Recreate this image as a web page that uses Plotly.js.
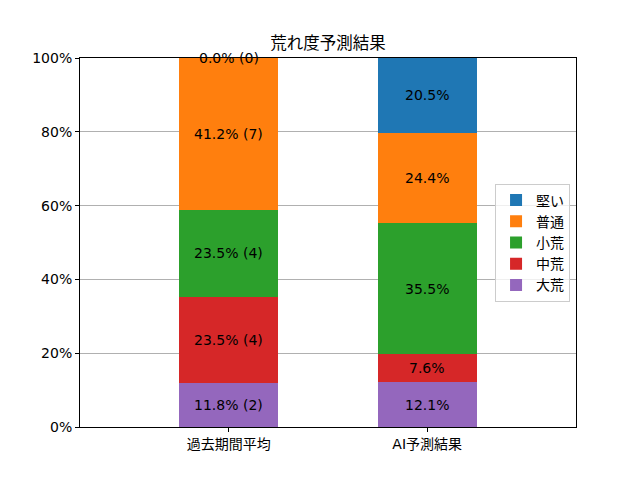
<!DOCTYPE html>
<html>
<head>
<meta charset="utf-8">
<script src="https://cdn.plot.ly/plotly-3.0.1.min.js"></script>
<style>
  body { margin: 0; }
  #chart { width: 640px; height: 480px; }
</style>
</head>
<body>
<div id="chart"></div>
<script>
// categories and series, bottom of the stack first
var categories = ['過去期間平均', 'AI予測結果'];
var seriesNames = ['大荒', '中荒', '小荒', '普通', '堅い'];
var seriesColors = ['#9467bd', '#d62728', '#2ca02c', '#ff7f0e', '#1f77b4'];

var pastPct = [11.8, 23.5, 23.5, 41.2, 0.0];
var pastCount = [2, 4, 4, 7, 0];
var aiPct = [12.1, 7.6, 35.5, 24.4, 20.5];

var yTicks = [0, 20, 40, 60, 80, 100];
var yTickText = ['0%', '20%', '40%', '60%', '80%', '100%'];

var font = '"DejaVu Sans", "Noto Sans CJK JP", sans-serif';

var data = [];
var annotations = [];
var cumPast = 0, cumAi = 0;

for (var i = 0; i < seriesNames.length; i++) {
  data.push({
    type: 'bar',
    name: seriesNames[i],
    x: categories,
    y: [pastPct[i], aiPct[i]],
    width: 0.5,
    marker: { color: seriesColors[i], line: { width: 0 } },
    hoverinfo: 'name+y'
  });

  annotations.push({
    x: categories[0], y: cumPast + pastPct[i] / 2,
    xref: 'x', yref: 'y', showarrow: false,
    text: pastPct[i].toFixed(1) + '% (' + pastCount[i] + ')',
    font: { family: font, size: 14, color: '#000' }
  });
  annotations.push({
    x: categories[1], y: cumAi + aiPct[i] / 2,
    xref: 'x', yref: 'y', showarrow: false,
    text: aiPct[i].toFixed(1) + '%',
    font: { family: font, size: 14, color: '#000' }
  });
  cumPast += pastPct[i];
  cumAi += aiPct[i];
}

var layout = {
  width: 640,
  height: 480,
  barmode: 'stack',
  paper_bgcolor: '#fff',
  plot_bgcolor: '#fff',
  font: { family: font, size: 14, color: '#000' },
  margin: { l: 80, r: 64, t: 58, b: 53 },
  title: {
    text: '荒れ度予測結果',
    font: { family: font, size: 16.5, color: '#000' },
    x: 0.5125, xanchor: 'center',
    y: 0.91, yanchor: 'middle'
  },
  xaxis: {
    type: 'category',
    range: [-0.75, 1.75],
    showline: true, mirror: true, linecolor: '#000', linewidth: 1,
    ticks: 'outside', ticklen: 4, tickcolor: '#000',
    showgrid: false,
    tickfont: { family: font, size: 14 }
  },
  yaxis: {
    range: [0, 100],
    tickvals: yTicks,
    ticktext: yTickText,
    showline: true, mirror: true, linecolor: '#000', linewidth: 1,
    ticks: 'outside', ticklen: 4, tickcolor: '#000',
    showgrid: true, gridcolor: '#b0b0b0', gridwidth: 1,
    zeroline: false,
    tickfont: { family: font, size: 14 }
  },
  legend: {
    x: 0.988, xanchor: 'right',
    y: 0.5, yanchor: 'middle',
    bgcolor: 'rgba(255,255,255,0.8)',
    bordercolor: '#cccccc', borderwidth: 1,
    font: { family: font, size: 14 },
    traceorder: 'reversed'
  },
  annotations: annotations,
  showlegend: true
};

Plotly.newPlot('chart', data, layout, { displayModeBar: false });
</script>
</body>
</html>
